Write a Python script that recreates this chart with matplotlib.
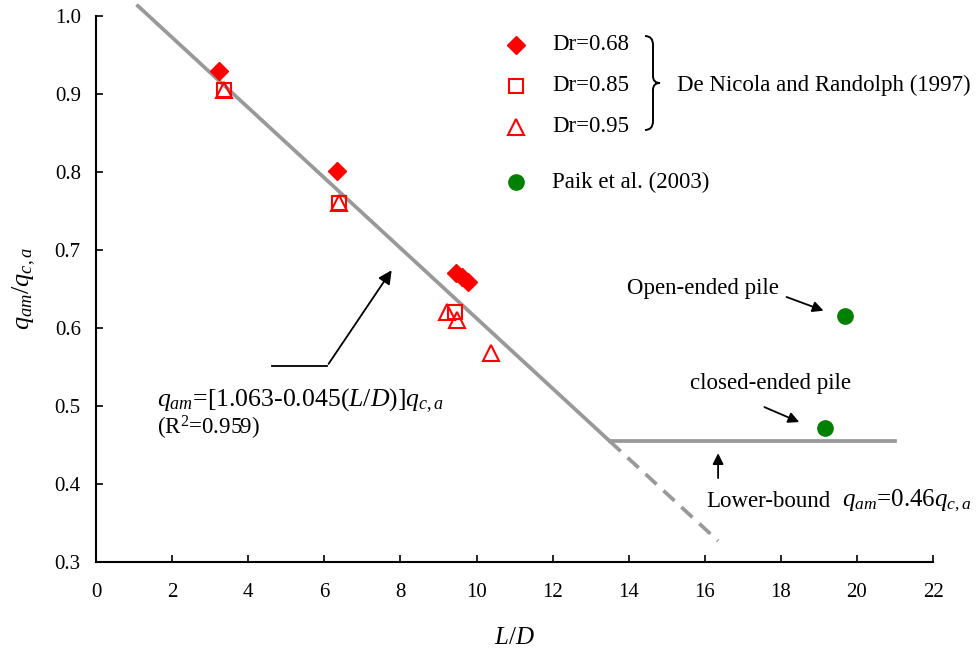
import matplotlib
matplotlib.use('Agg')
import matplotlib.pyplot as plt
from matplotlib.path import Path
from matplotlib.patches import PathPatch

plt.rcParams['font.family'] = ['Liberation Serif', 'DejaVu Serif']
plt.rcParams['mathtext.fontset'] = 'custom'
plt.rcParams['mathtext.rm'] = 'Liberation Serif'
plt.rcParams['mathtext.it'] = 'Liberation Serif:italic'

# datos
dr68_x = [3.23, 6.33, 9.45, 9.62, 9.78]
dr68_y = [0.929, 0.801, 0.671, 0.665, 0.659]
dr85_x = [3.36, 6.38, 9.43]
dr85_y = [0.905, 0.760, 0.620]
dr95_x = [3.36, 6.38, 9.22, 9.49, 10.38]
dr95_y = [0.905, 0.760, 0.620, 0.610, 0.568]
paik_x = [19.68, 19.15]
paik_y = [0.615, 0.472]

fit_x = [1.1, 13.5]
fit_y = [1.013, 0.455]
lower_x = [13.5, 21.0]
lower_y = [0.455, 0.455]
ext_x = [13.5, 16.35]
ext_y = [0.455, 0.327]

x_ticks = list(range(0, 23, 2))
y_ticks = [0.3, 0.4, 0.5, 0.6, 0.7, 0.8, 0.9, 1.0]
y_ticklabels = ['0.3', '0.4', '0.5', '0.6', '0.7', '0.8', '0.9', '1.0']

fig = plt.figure(figsize=(9.76, 6.54), dpi=100)
ax = fig.add_axes([0.0984, 0.1407, 0.8576, 0.8348])

gray = '#999999'
ax.plot(fit_x, fit_y, color=gray, lw=2.7, clip_on=False, zorder=1)
ax.plot(lower_x, lower_y, color=gray, lw=2.7, zorder=1)
ax.plot(ext_x, ext_y, color=gray, lw=2.7, ls=(0, (4, 2.5)), zorder=1)

ax.plot(dr68_x, dr68_y, 'D', color='red', ms=9, ls='none', zorder=3)
ax.plot(dr85_x, dr85_y, 's', mfc='none', mec='red', mew=1.5, ms=10.5, ls='none', zorder=3)
ax.plot(dr95_x, dr95_y, '^', mfc='none', mec='red', mew=1.5, ms=11.5, ls='none', zorder=3)
ax.plot(paik_x, paik_y, 'o', color='green', ms=11, ls='none', zorder=3)

ax.set_xlim(0, 22)
ax.set_ylim(0.3, 1.0)
ax.set_xticks(x_ticks)
ax.set_xticklabels([str(t) for t in x_ticks], fontfamily='Liberation Serif')
ax.set_yticks(y_ticks)
ax.set_yticklabels(y_ticklabels, fontfamily='Liberation Serif')
ax.tick_params(direction='in', length=5, width=1.2, labelsize=15)
ax.tick_params(axis='x', pad=15)
ax.tick_params(axis='y', pad=11)
ax.spines['top'].set_visible(False)
ax.spines['right'].set_visible(False)
ax.spines['left'].set_linewidth(1.5)
ax.spines['bottom'].set_linewidth(1.5)

ax.set_xlabel('$L/D$', fontsize=18, labelpad=18)
ax.set_ylabel('$q_{am}/q_{c,a}$', fontsize=19, labelpad=12)

# leyenda manual
leg = [('D', dict(color='red', ms=9), 'Dr=0.68', 0.947),
       ('s', dict(mfc='none', mec='red', mew=1.5, ms=10.5), 'Dr=0.85', 0.872),
       ('^', dict(mfc='none', mec='red', mew=1.5, ms=11.5), 'Dr=0.95', 0.797),
       ('o', dict(color='green', ms=11), 'Paik et al. (2003)', 0.696)]
for m, kw, lab, yy in leg:
    ax.plot([0.502], [yy], m, transform=ax.transAxes, clip_on=False, ls='none', **kw)
    ax.text(0.545, yy, lab, transform=ax.transAxes, fontsize=16.5, va='center')

# llave
def px(x, y):
    return (x / 976, 1 - y / 654)
verts = [px(645, 36), px(653, 36), px(653, 45), px(653, 76), px(653, 83), px(660, 83),
         px(653, 83), px(653, 90), px(653, 121), px(653, 130), px(645, 130)]
codes = [Path.MOVETO, Path.CURVE3, Path.CURVE3, Path.LINETO, Path.CURVE3, Path.CURVE3,
         Path.CURVE3, Path.CURVE3, Path.LINETO, Path.CURVE3, Path.CURVE3]
fig.add_artist(PathPatch(Path(verts, codes), fc='none', ec='black', lw=1.4,
                         transform=fig.transFigure))
ax.text(0.694, 0.872, 'De Nicola and Randolph (1997)', transform=ax.transAxes,
        fontsize=16.5, va='center')

# anotaciones
ax.plot([4.63, 6.07], [0.551, 0.551], color='black', lw=1.3)
ax.annotate('', xy=(7.81, 0.677), xytext=(6.07, 0.551),
            arrowprops=dict(arrowstyle='-|>', color='black', lw=1.3, mutation_scale=20))
ax.text(1.6, 0.507, '$q_{am}$=[1.063-0.045($L/D$)]$q_{c,a}$', fontsize=18.5, va='center')
ax.text(1.6, 0.472, '(R$^2$=0.959)', fontsize=16.5, va='center')

ax.text(13.96, 0.651, 'Open-ended pile', fontsize=16.5, va='center')
ax.annotate('', xy=(19.19, 0.621), xytext=(18.08, 0.641),
            arrowprops=dict(arrowstyle='-|>', color='black', lw=1.3, mutation_scale=16))
ax.text(15.61, 0.529, 'closed-ended pile', fontsize=16.5, va='center')
ax.annotate('', xy=(18.55, 0.478), xytext=(17.5, 0.5),
            arrowprops=dict(arrowstyle='-|>', color='black', lw=1.3, mutation_scale=16))
ax.annotate('', xy=(16.35, 0.443), xytext=(16.35, 0.404),
            arrowprops=dict(arrowstyle='-|>', color='black', lw=1.3, mutation_scale=16))
ax.text(16.03, 0.378, 'Lower-bound', fontsize=16.5, va='center')
ax.text(19.6, 0.378, '$q_{am}$=0.46$q_{c,a}$', fontsize=18, va='center')

fig.savefig('out.png', dpi=100)
